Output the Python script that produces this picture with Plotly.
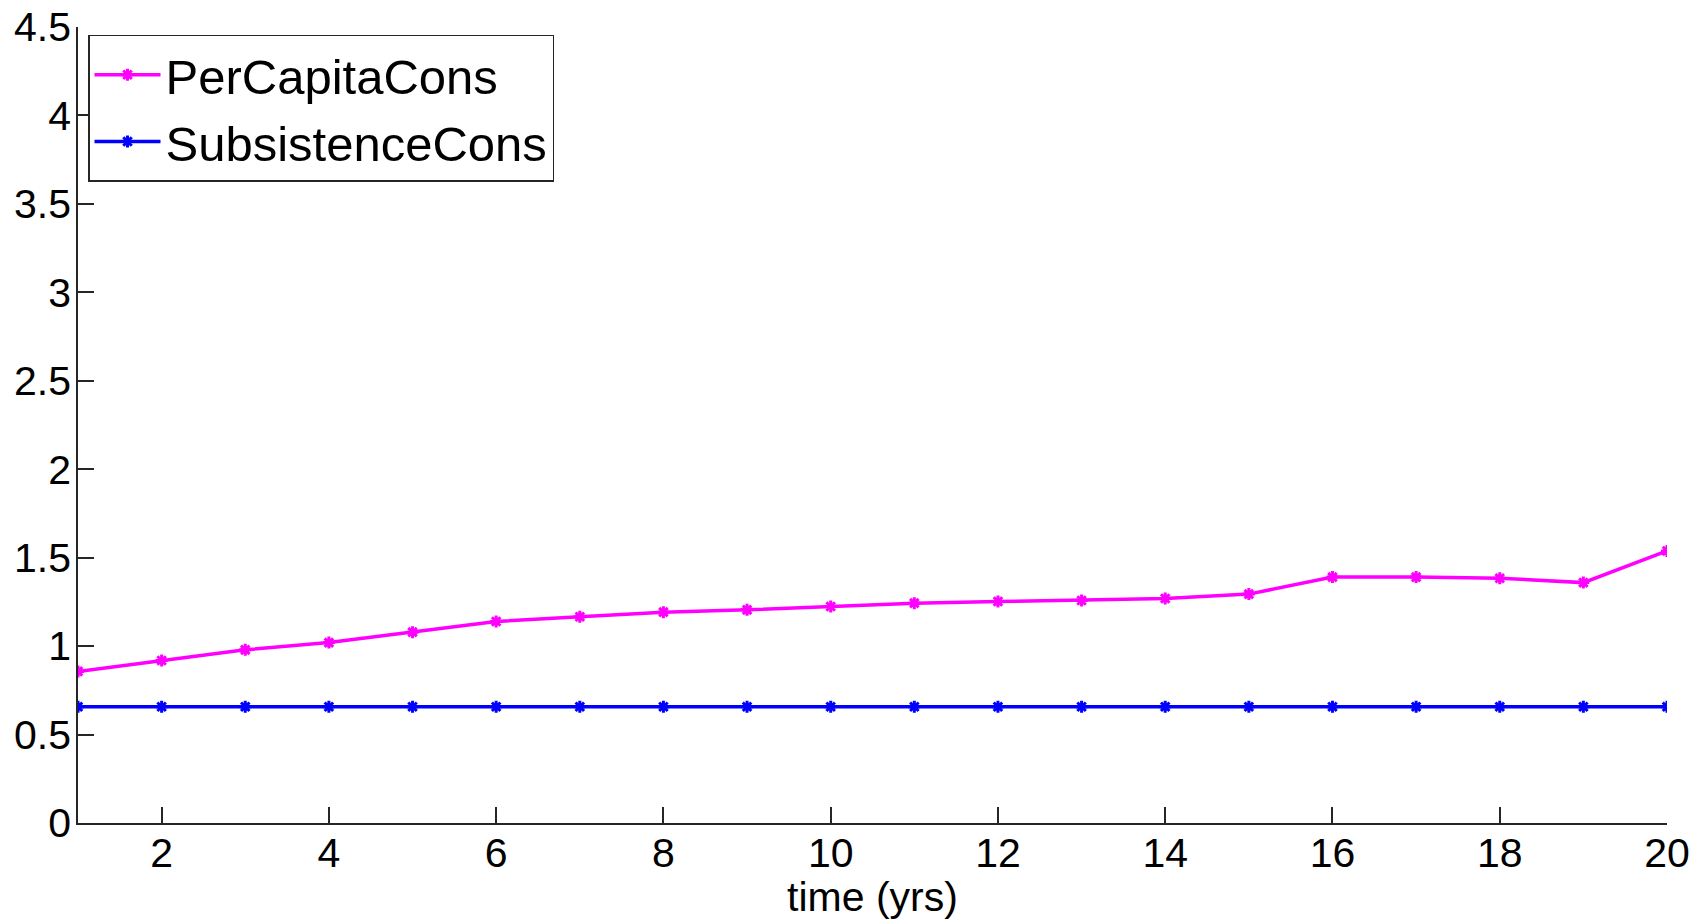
import plotly.graph_objects as go

years = list(range(1, 21))
per_capita_cons = [0.857, 0.919, 0.979, 1.020, 1.079, 1.139, 1.166, 1.192, 1.205, 1.224,
                   1.243, 1.252, 1.258, 1.269, 1.294, 1.390, 1.390, 1.384, 1.359, 1.538]
subsistence_cons = [0.657] * 20
x_ticks = list(range(2, 21, 2))
y_ticks = [0, 0.5, 1, 1.5, 2, 2.5, 3, 3.5, 4, 4.5]
y_tick_labels = ["0", "0.5", "1", "1.5", "2", "2.5", "3", "3.5", "4", "4.5"]

FONT = "Liberation Sans, Arial, sans-serif"

fig = go.Figure()
fig.add_trace(go.Scatter(
    x=years, y=per_capita_cons, name="PerCapitaCons", mode="lines+markers",
    line=dict(color="#FF00FF", width=3.5),
    marker=dict(symbol="asterisk-open", size=10, color="#FF00FF",
                line=dict(color="#FF00FF", width=3)),
))
fig.add_trace(go.Scatter(
    x=years, y=subsistence_cons, name="SubsistenceCons", mode="lines+markers",
    line=dict(color="#0000FF", width=3.5),
    marker=dict(symbol="asterisk-open", size=10, color="#0000FF",
                line=dict(color="#0000FF", width=3)),
))

axis_common = dict(
    showgrid=False, zeroline=False, showline=True, linecolor="#262626", linewidth=1.5,
    ticks="inside", ticklen=16, tickwidth=1.5, tickcolor="#262626",
    tickfont=dict(family=FONT, size=41, color="#000000"),
    mirror=False, automargin=False,
)

fig.update_layout(
    width=1704, height=920,
    margin=dict(l=78, r=37, t=27, b=97),
    paper_bgcolor="white", plot_bgcolor="white",
    font=dict(family=FONT, color="#000000"),
    xaxis=dict(range=[1, 20], tickvals=x_ticks, ticktext=[str(v) for v in x_ticks],
               title=dict(text="time (yrs)", font=dict(family=FONT, size=41), standoff=0),
               ticklabelstandoff=-7, **axis_common),
    yaxis=dict(range=[0, 4.5], tickvals=y_ticks, ticktext=y_tick_labels,
               ticklabelstandoff=-3, **axis_common),
    legend=dict(
        x=0.0063, y=0.99, xanchor="left", yanchor="top",
        bgcolor="white", bordercolor="#262626", borderwidth=1.5,
        font=dict(family=FONT, size=49, color="#000000"),
        itemwidth=66, tracegroupgap=0,
    ),
    showlegend=True,
)

fig.write_html("out.html")
